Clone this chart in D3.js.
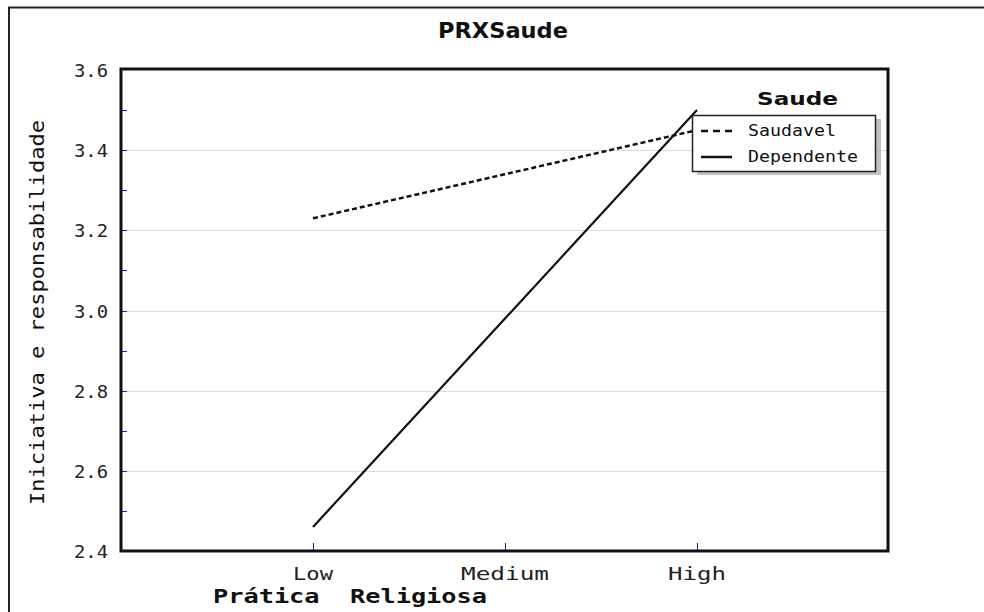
<!DOCTYPE html>
<html><head><meta charset="utf-8">
<script src="https://cdn.jsdelivr.net/npm/d3@7"></script>
<style>body{margin:0;background:#fff}svg{display:block}</style>
</head><body>
<svg id="c" width="984" height="612"></svg>
<script>
const categories = ["Low", "Medium", "High"];
const seriesNames = ["Saudavel", "Dependente"];
const saudavel = [3.23, 3.34, 3.45];
const dependente = [2.46, 2.98, 3.50];
const yTicks = [2.4, 2.6, 2.8, 3.0, 3.2, 3.4, 3.6];
const yMinorTicks = [2.5, 2.6, 2.7, 2.8, 2.9, 3.0, 3.1, 3.2, 3.3, 3.4, 3.5];
const title = "PRXSaude";
const yLabel = "Iniciativa e responsabilidade";
const xLabel = "Prática  Religiosa";
const legendTitle = "Saude";

const svg = d3.select("#c");
const L = 121, R = 888, T = 70, B = 551;
const xi = d3.scaleLinear().domain([0, 2]).range([313, 697]);
const y = d3.scaleLinear().domain([2.4, 3.6]).range([B, T]);
const mono = "DejaVu Sans Mono";
const SG = "spacingAndGlyphs";

// outer frame
svg.append("path").attr("d", "M9,620 V7.5 H990").attr("fill", "none").attr("stroke", "#222").attr("stroke-width", 2);

// gridlines
svg.append("g").selectAll("line").data(yTicks.filter(v => v > 2.4 && v < 3.6)).join("line")
  .attr("x1", L).attr("x2", R).attr("y1", d => Math.round(y(d)) + 0.5).attr("y2", d => Math.round(y(d)) + 0.5)
  .attr("stroke", "#dcdcdc").attr("stroke-width", 1);

// minor blue ticks left
svg.append("g").selectAll("line").data(yMinorTicks).join("line")
  .attr("x1", L).attr("x2", L + 6).attr("y1", d => Math.round(y(d)) + 0.5).attr("y2", d => Math.round(y(d)) + 0.5)
  .attr("stroke", "#1a1adf").attr("stroke-width", 1);

// bottom blue ticks
svg.append("g").selectAll("line").data(categories).join("line")
  .attr("x1", (d, i) => Math.round(xi(i)) + 0.5).attr("x2", (d, i) => Math.round(xi(i)) + 0.5)
  .attr("y1", B - 1).attr("y2", B - 8)
  .attr("stroke", "#1a1adf").attr("stroke-width", 1);

// y tick labels
svg.append("g").selectAll("text").data(yTicks).join("text")
  .attr("x", 108).attr("y", d => y(d) + 7).attr("text-anchor", "end")
  .attr("font-family", mono).attr("font-size", 18).attr("fill", "#222")
  .attr("textLength", 34).attr("lengthAdjust", SG)
  .text(d => d.toFixed(1));

// x tick labels
const xLabW = [40, 88, 58];
svg.append("g").selectAll("text").data(categories).join("text")
  .attr("x", (d, i) => xi(i) - xLabW[i] / 2).attr("y", 580)
  .attr("font-family", mono).attr("font-size", 18).attr("fill", "#222")
  .attr("textLength", (d, i) => xLabW[i]).attr("lengthAdjust", SG)
  .text(d => d);

// lines
const line = d3.line().x((d, i) => xi(i)).y(d => y(d));
svg.append("path").datum(saudavel).attr("d", line).attr("fill", "none")
  .attr("stroke", "#111").attr("stroke-width", 2.5).attr("stroke-dasharray", "5,3");
svg.append("path").datum(dependente).attr("d", line).attr("fill", "none")
  .attr("stroke", "#111").attr("stroke-width", 2.2);

// plot box
svg.append("rect").attr("x", L).attr("y", T - 1).attr("width", R - L).attr("height", B - T + 1)
  .attr("fill", "none").attr("stroke", "#111").attr("stroke-width", 3);

// title
svg.append("text").attr("x", 438).attr("y", 38)
  .attr("font-family", "DejaVu Sans").attr("font-weight", 600).attr("font-size", 21).attr("fill", "#111")
  .attr("textLength", 130).attr("lengthAdjust", SG).text(title);

// y label
svg.append("text").attr("transform", "translate(44,505) rotate(-90)")
  .attr("font-family", mono).attr("font-size", 20).attr("fill", "#111")
  .attr("textLength", 385).attr("lengthAdjust", SG).text(yLabel);

// x label
svg.append("text").attr("x", 213).attr("y", 603)
  .attr("font-family", mono).attr("font-weight", "bold").attr("font-size", 19).attr("fill", "#111")
  .attr("xml:space", "preserve").style("white-space", "pre")
  .attr("textLength", 274).attr("lengthAdjust", SG).text(xLabel);

// legend
const lg = svg.append("g");
lg.append("text").attr("x", 757).attr("y", 105)
  .attr("font-family", "DejaVu Sans").attr("font-weight", "bold").attr("font-size", 18).attr("fill", "#111")
  .attr("textLength", 81).attr("lengthAdjust", SG).text(legendTitle);
lg.append("rect").attr("x", 697).attr("y", 119).attr("width", 184).attr("height", 56).attr("fill", "#999").attr("opacity", 0.6);
lg.append("rect").attr("x", 692.5).attr("y", 115.5).attr("width", 183).attr("height", 56).attr("fill", "#fff").attr("stroke", "#222").attr("stroke-width", 1.5);
const items = [{name: seriesNames[0], dash: "7,5", w: 88}, {name: seriesNames[1], dash: null, w: 110}];
items.forEach((it, i) => {
  const yy = 131 + i * 26;
  lg.append("line").attr("x1", 701).attr("x2", 732).attr("y1", yy).attr("y2", yy)
    .attr("stroke", "#111").attr("stroke-width", 2.5).attr("stroke-dasharray", it.dash);
  lg.append("text").attr("x", 748).attr("y", yy + 5)
    .attr("font-family", mono).attr("font-size", 15).attr("fill", "#111")
    .attr("textLength", it.w).attr("lengthAdjust", SG).text(it.name);
});
</script>
</body></html>
